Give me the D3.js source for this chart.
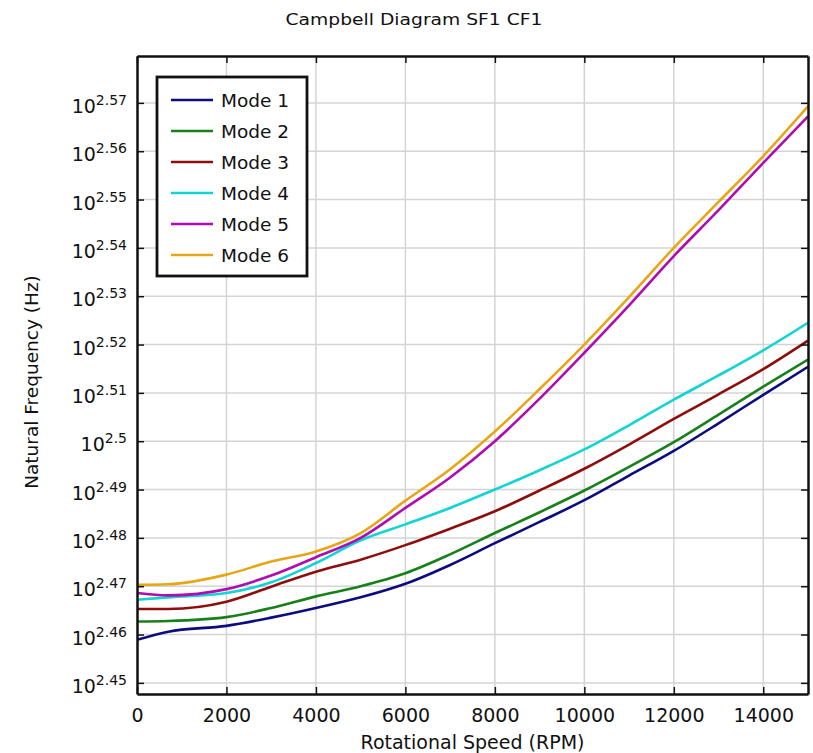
<!DOCTYPE html>
<html>
<head>
<meta charset="utf-8">
<script src="https://cdn.jsdelivr.net/npm/d3@7"></script>
<style>
  body { margin: 0; background: #fff; }
  text { font-family: "DejaVu Sans", sans-serif; fill: #111; }
</style>
</head>
<body>
<div id="main"></div>
<script>
// rotational speed (RPM) and natural frequency as log10(Hz)
const rpm = [0, 700, 2000, 3000, 4000, 5000, 6000, 7000, 8000, 9000, 10000, 11000, 12000, 13000, 14000, 15000];
const mode1 = [2.4589, 2.4606, 2.4618, 2.4635, 2.4655, 2.4677, 2.4705, 2.4744, 2.4789, 2.4833, 2.4878, 2.4929, 2.4980, 2.5037, 2.5096, 2.5154];
const mode2 = [2.4627, 2.4628, 2.4636, 2.4655, 2.4679, 2.4700, 2.4727, 2.4766, 2.4810, 2.4853, 2.4898, 2.4947, 2.4998, 2.5055, 2.5113, 2.5169];
const mode3 = [2.4653, 2.4653, 2.4668, 2.4699, 2.4730, 2.4755, 2.4785, 2.4819, 2.4855, 2.4898, 2.4943, 2.4993, 2.5046, 2.5097, 2.5149, 2.5208];
const mode4 = [2.4672, 2.4677, 2.4686, 2.4708, 2.4748, 2.4795, 2.4828, 2.4862, 2.4900, 2.4940, 2.4983, 2.5033, 2.5086, 2.5136, 2.5188, 2.5245];
const mode5 = [2.4686, 2.4681, 2.4694, 2.4722, 2.4760, 2.4800, 2.4862, 2.4925, 2.5000, 2.5088, 2.5183, 2.5281, 2.5383, 2.5478, 2.5576, 2.5672];
const mode6 = [2.4703, 2.4704, 2.4724, 2.4751, 2.4772, 2.4810, 2.4877, 2.4942, 2.5020, 2.5108, 2.5200, 2.5298, 2.5400, 2.5495, 2.5590, 2.5693];

const modeNames = ['Mode 1', 'Mode 2', 'Mode 3', 'Mode 4', 'Mode 5', 'Mode 6'];
const modeColors = ['#0c0c80', '#17801a', '#8e0d0d', '#12d4d4', '#b00cb0', '#e6a616'];
const xTicks = [0, 2000, 4000, 6000, 8000, 10000, 12000, 14000];
const yTickExps = ['2.45', '2.46', '2.47', '2.48', '2.49', '2.5', '2.51', '2.52', '2.53', '2.54', '2.55', '2.56', '2.57'];

const W = 813, H = 753;
const margin = {left: 137, right: 5, top: 56, bottom: 59};
const pw = W - margin.left - margin.right;
const ph = H - margin.top - margin.bottom;

const svg = d3.select('#main').append('svg').attr('width', W).attr('height', H);

const x = d3.scaleLinear().domain([0, 15000]).range([0, pw]);
const y = d3.scaleLog().domain([Math.pow(10, 2.4477), Math.pow(10, 2.5797)]).range([ph, 0]);

// title, a bit wide like the original
svg.append('g').attr('transform', 'translate(414,25) scale(1.17,1)')
    .append('text')
    .attr('text-anchor', 'middle')
    .style('font-size', '16px')
    .text('Campbell Diagram SF1 CF1');

const g = svg.append('g').attr('transform', `translate(${margin.left},${margin.top})`);

// grid
const yTickVals = yTickExps.map(e => Math.pow(10, +e));
g.append('g').selectAll('line').data(yTickVals).join('line')
    .attr('x1', 0).attr('x2', pw)
    .attr('y1', d => y(d)).attr('y2', d => y(d))
    .attr('stroke', '#d4d4d4').attr('stroke-width', 1.5);
g.append('g').selectAll('line').data(xTicks.slice(1)).join('line')
    .attr('y1', 0).attr('y2', ph)
    .attr('x1', d => x(d)).attr('x2', d => x(d))
    .attr('stroke', '#d4d4d4').attr('stroke-width', 1.5);

// curves
const modes = [mode1, mode2, mode3, mode4, mode5, mode6];
const line = d3.line()
    .x((d, i) => x(rpm[i]))
    .y(d => y(Math.pow(10, d)))
    .curve(d3.curveMonotoneX);

g.append('defs').append('clipPath').attr('id', 'clip')
    .append('rect').attr('width', pw).attr('height', ph);

g.append('g').attr('clip-path', 'url(#clip)')
    .selectAll('path').data(modes).join('path')
    .attr('d', line)
    .attr('fill', 'none')
    .attr('stroke', (d, i) => modeColors[i])
    .attr('stroke-width', 2.6);

// axes (ticks inward)
const axB = g.append('g').attr('transform', `translate(0,${ph})`)
    .call(d3.axisBottom(x).tickValues(xTicks).tickSizeInner(-7).tickSizeOuter(0)
        .tickPadding(15).tickFormat(d3.format('d')));
const axT = g.append('g')
    .call(d3.axisTop(x).tickValues(xTicks).tickSizeInner(-7).tickSizeOuter(0).tickFormat(''));
const axL = g.append('g')
    .call(d3.axisLeft(y).tickValues(yTickVals).tickSizeInner(-7).tickSizeOuter(0).tickFormat(''));
const axR = g.append('g').attr('transform', `translate(${pw},0)`)
    .call(d3.axisRight(y).tickValues(yTickVals).tickSizeInner(-7).tickSizeOuter(0).tickFormat(''));

[axB, axT, axL, axR].forEach(a => {
    a.select('.domain').attr('stroke', '#111').attr('stroke-width', 2.5);
    a.selectAll('.tick line').attr('stroke', '#111').attr('stroke-width', 1.5);
});
axB.selectAll('.tick text').style('font-size', '19px').attr('fill', '#111');

// y labels as 10^exp
const yl = g.append('g').selectAll('text').data(yTickExps).join('text')
    .attr('x', -10)
    .attr('y', d => y(Math.pow(10, +d)) + 10)
    .attr('text-anchor', 'end')
    .style('font-size', '19px');
yl.append('tspan').text('10');
yl.append('tspan').attr('dy', -8).style('font-size', '14px').text(d => d);

// axis titles
svg.append('text')
    .attr('x', margin.left + pw / 2).attr('y', 749)
    .attr('text-anchor', 'middle')
    .style('font-size', '19px')
    .text('Rotational Speed (RPM)');
svg.append('text')
    .attr('transform', `translate(38,${margin.top + ph / 2 + 7}) rotate(-90)`)
    .attr('text-anchor', 'middle')
    .style('font-size', '18.5px')
    .text('Natural Frequency (Hz)');

// legend
const leg = svg.append('g').attr('transform', 'translate(157,77)');
leg.append('rect').attr('width', 150).attr('height', 199)
    .attr('fill', '#fff').attr('stroke', '#111').attr('stroke-width', 2.8);
const rows = leg.selectAll('g.row').data(modeNames).join('g')
    .attr('class', 'row')
    .attr('transform', (d, i) => `translate(0,${23 + i * 31})`);
rows.append('line').attr('x1', 14).attr('x2', 56)
    .attr('stroke', (d, i) => modeColors[i]).attr('stroke-width', 2.6);
rows.append('text').attr('x', 64).attr('y', 7)
    .style('font-size', '18.5px')
    .text(d => d);
</script>
</body>
</html>
